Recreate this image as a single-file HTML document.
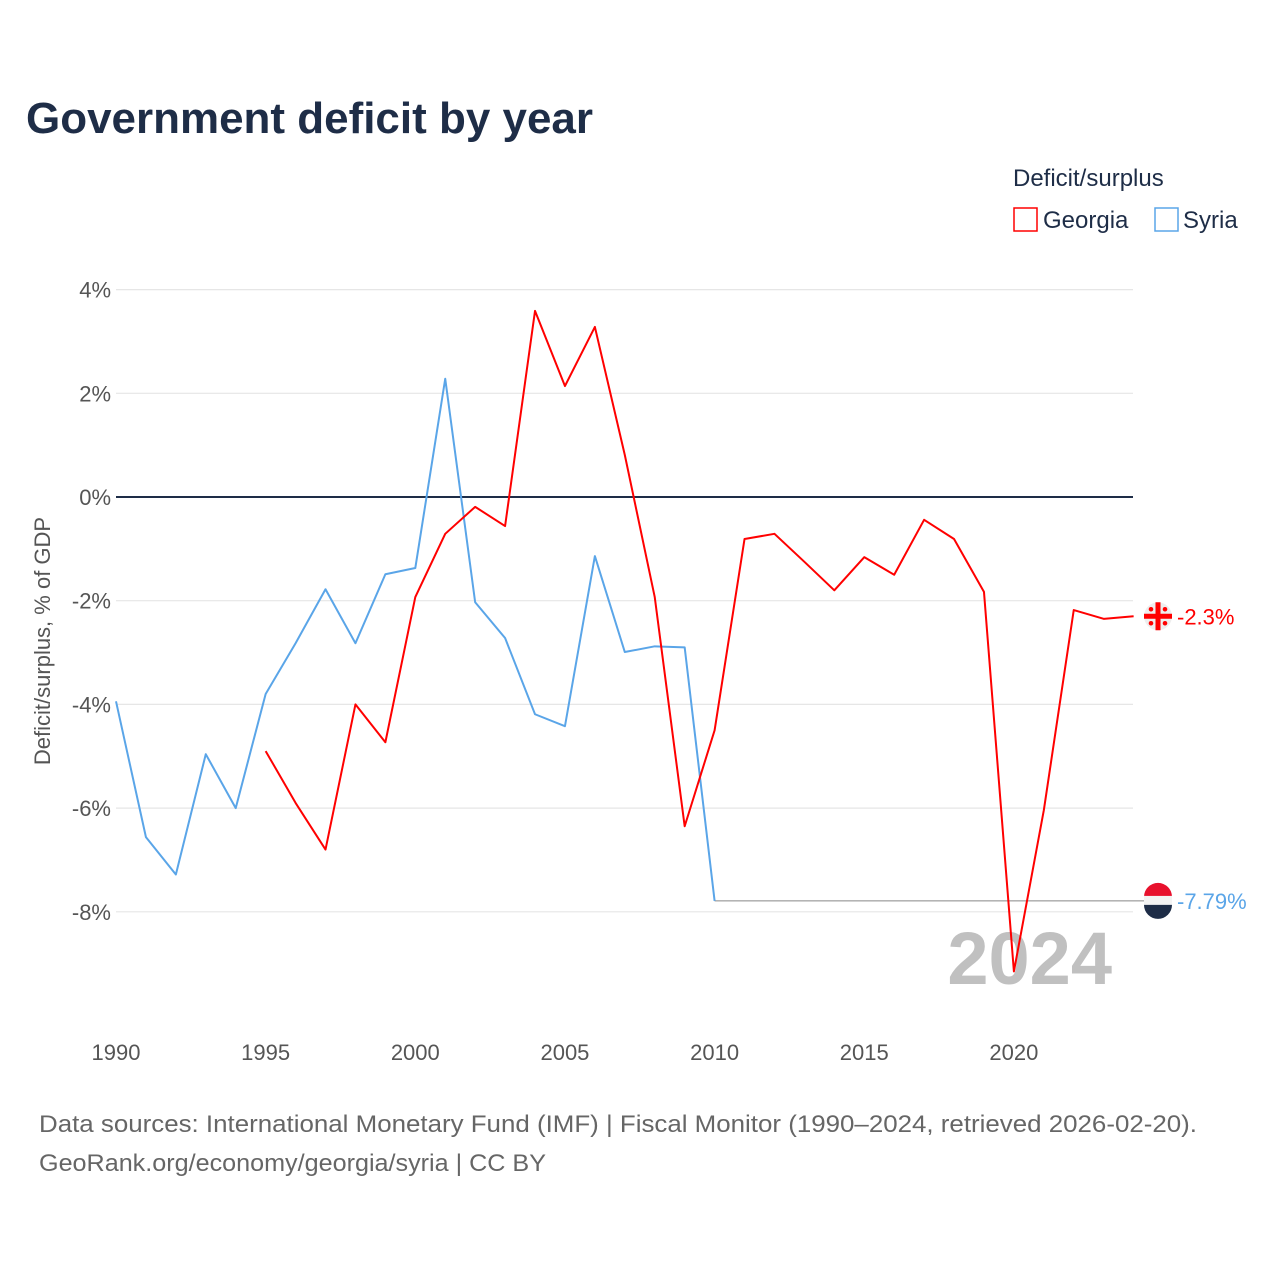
<!DOCTYPE html>
<html><head><meta charset="utf-8"><style>
body{margin:0;background:#fff;font-family:"Liberation Sans",sans-serif;}
svg text{font-family:"Liberation Sans",sans-serif;}
</style></head><body>
<svg width="1280" height="1280" viewBox="0 0 1280 1280">
<text x="26" y="133" font-size="44" font-weight="bold" fill="#1e2d47" textLength="567" lengthAdjust="spacingAndGlyphs">Government deficit by year</text>
<text x="1013" y="186" font-size="24" fill="#1e2d47">Deficit/surplus</text>
<g><rect x="1014" y="208" width="23" height="23" fill="none" stroke="#ff0000" stroke-width="1.5"/><text x="1043" y="228" font-size="24" fill="#1e2d47">Georgia</text></g>
<g><rect x="1155" y="208" width="23" height="23" fill="none" stroke="#5aa5e8" stroke-width="1.5"/><text x="1183" y="228" font-size="24" fill="#1e2d47">Syria</text></g>
<text transform="translate(50,641) rotate(-90)" text-anchor="middle" font-size="22" fill="#555">Deficit/surplus, % of GDP</text>
<g id="grid"></g><g id="xt"></g>
<text x="1112" y="984" text-anchor="end" font-size="74" font-weight="bold" fill="#c0c0c0">2024</text>
<g id="series"></g>
<text x="39" y="1132" font-size="24" fill="#666" textLength="1158" lengthAdjust="spacingAndGlyphs">Data sources: International Monetary Fund (IMF) | Fiscal Monitor (1990–2024, retrieved 2026-02-20).</text>
<text x="39" y="1171" font-size="24" fill="#666" textLength="507" lengthAdjust="spacingAndGlyphs">GeoRank.org/economy/georgia/syria | CC BY</text>
</svg>
<script>
const yTicks=[4,2,0,-2,-4,-6,-8];
const xTicks=[1990,1995,2000,2005,2010,2015,2020];
const syriaYears=[1990,1991,1992,1993,1994,1995,1996,1997,1998,1999,2000,2001,2002,2003,2004,2005,2006,2007,2008,2009,2010];
const syriaVals=[-3.94,-6.56,-7.28,-4.96,-6.0,-3.8,-2.82,-1.78,-2.82,-1.49,-1.37,2.28,-2.03,-2.72,-4.19,-4.42,-1.14,-2.99,-2.88,-2.9,-7.79];
const georgiaYears=[1995,1996,1997,1998,1999,2000,2001,2002,2003,2004,2005,2006,2007,2008,2009,2010,2011,2012,2013,2014,2015,2016,2017,2018,2019,2020,2021,2022,2023,2024];
const georgiaVals=[-4.9,-5.9,-6.8,-4.0,-4.73,-1.93,-0.71,-0.19,-0.56,3.59,2.14,3.28,0.81,-1.93,-6.35,-4.5,-0.81,-0.71,-1.25,-1.8,-1.16,-1.5,-0.44,-0.81,-1.83,-9.15,-6.04,-2.18,-2.35,-2.3];
const NS='http://www.w3.org/2000/svg';
const X=y=>116+(y-1990)*29.93;
const Y=v=>497-v*51.85;
function mk(t,a,p){const e=document.createElementNS(NS,t);for(const k in a)e.setAttribute(k,a[k]);p.appendChild(e);return e;}
const grid=document.getElementById('grid');
yTicks.forEach(v=>{
 const l=mk('line',{x1:116,x2:1133,y1:Y(v),y2:Y(v),stroke:v===0?'#1e2d47':'#e6e6e6','stroke-width':v===0?2:1.2},grid);
 
 
 const t=mk('text',{x:111,y:Y(v)+8,'text-anchor':'end','font-size':22,fill:'#555'},grid);
 t.textContent=v+'%';
 
 
});
const xt=document.getElementById('xt');
xTicks.forEach(y=>{
 const t=mk('text',{x:X(y),y:1060,'text-anchor':'middle','font-size':22,fill:'#555'},xt);
 t.textContent=y;
 
 
});
const s=document.getElementById('series');
const ext=mk('line',{x1:X(2010),x2:1145,y1:Y(syriaVals[syriaVals.length-1]),y2:Y(syriaVals[syriaVals.length-1]),stroke:'#888','stroke-width':1},s);


function line(ys,vs,c,n){const p=mk('polyline',{points:ys.map((y,i)=>X(y)+','+Y(vs[i])).join(' '),fill:'none',stroke:c,'stroke-width':2,'stroke-linejoin':'round'},s);
 
 }
line(syriaYears,syriaVals,'#5aa5e8','syria-line');
line(georgiaYears,georgiaVals,'#ff0000','georgia-line');
const gy=Y(georgiaVals[georgiaVals.length-1]), sy=Y(syriaVals[syriaVals.length-1]);
const gf=mk('g',{},s);


mk('circle',{cx:1158,cy:gy,r:14,fill:'#eeeeee'},gf);
mk('rect',{x:1144,y:gy-2.5,width:28,height:5,fill:'#ff0000'},gf);
mk('rect',{x:1155.5,y:gy-14,width:5,height:28,fill:'#ff0000'},gf);
[[-7,-7],[7,-7],[-7,7],[7,7]].forEach(d=>mk('circle',{cx:1158+d[0],cy:gy+d[1],r:2.3,fill:'#ff0000'},gf));
const sf=mk('g',{},s);


mk('path',{d:`M1144,${sy-4} A14,14 0 0 1 1172,${sy-4} Z`,fill:'#e8112d'},sf);
mk('rect',{x:1144,y:sy-5,width:28,height:10,fill:'#f3f3f3'},sf);
mk('path',{d:`M1144,${sy+4} A14,14 0 0 0 1172,${sy+4} Z`,fill:'#1e2d47'},sf);
const tg=mk('text',{x:1177,y:gy+8,'font-size':22,fill:'#ff0000'},s);
tg.textContent=georgiaVals[georgiaVals.length-1]+'%';


const ts=mk('text',{x:1177,y:sy+8,'font-size':22,fill:'#5aa5e8'},s);
ts.textContent=syriaVals[syriaVals.length-1]+'%';


</script>
</body></html>
